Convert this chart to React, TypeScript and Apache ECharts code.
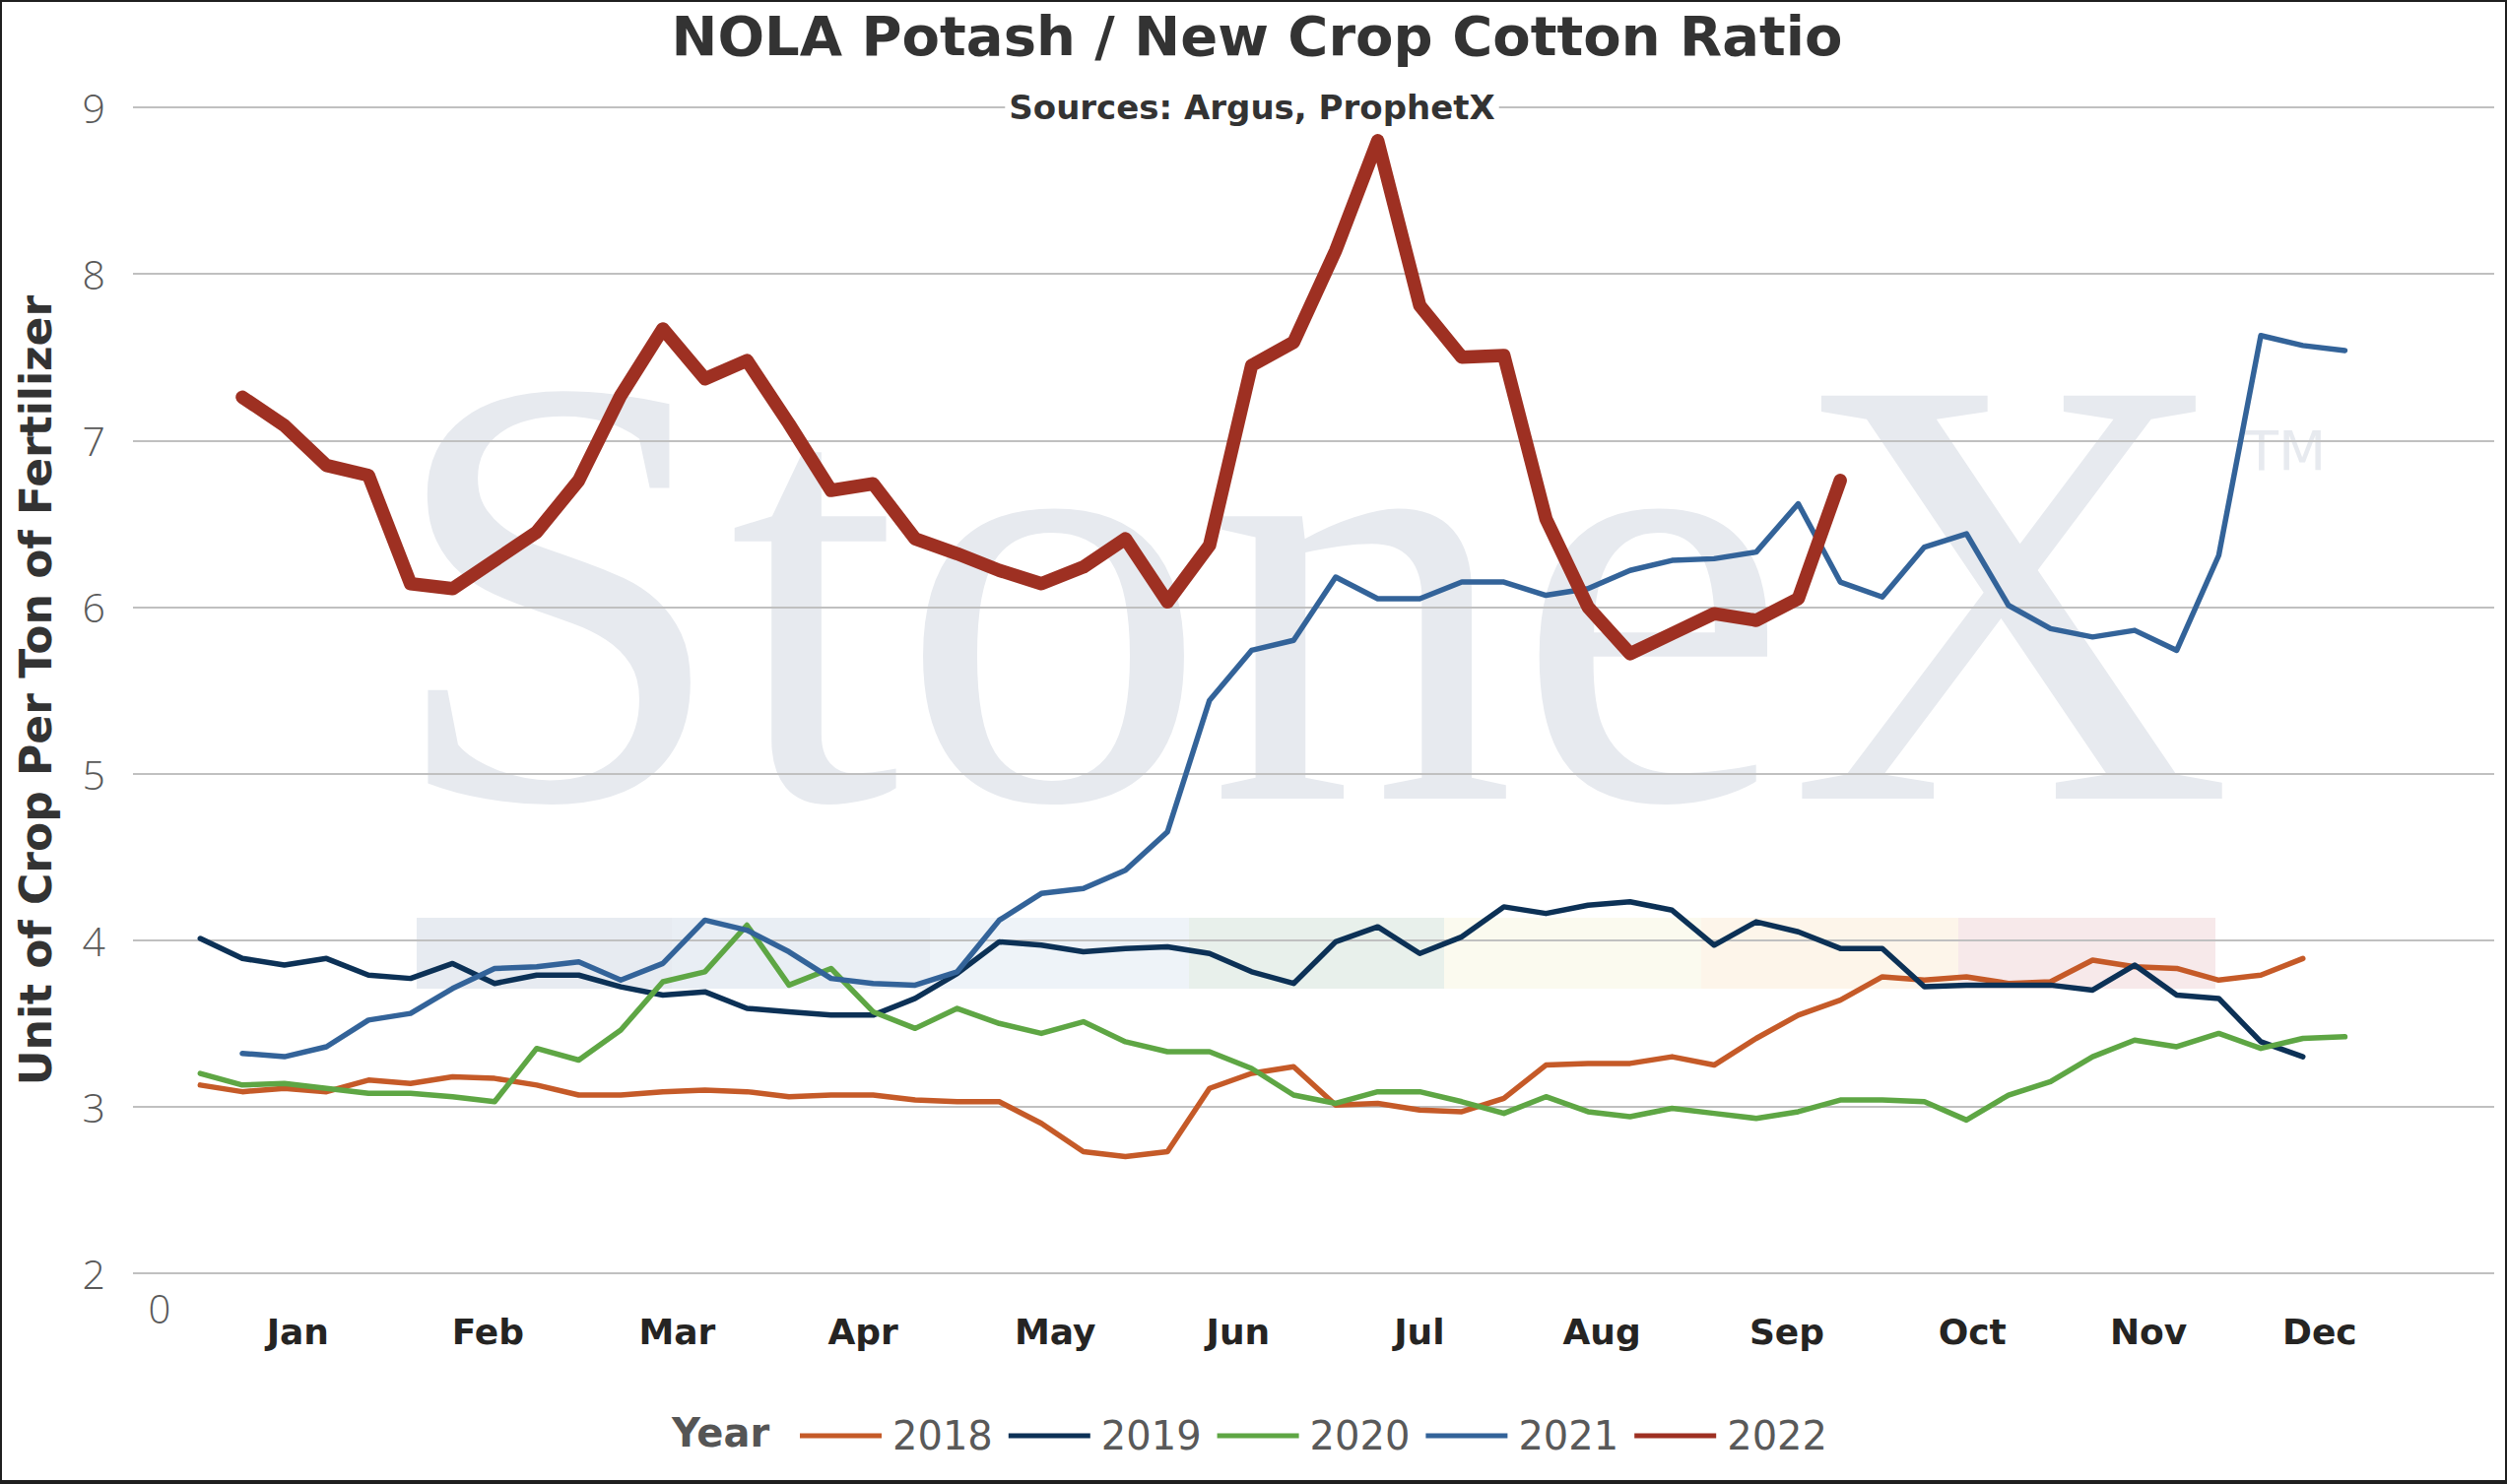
import * as React from "react";
import * as echarts from "echarts";

// weekly index: 0 = first week of January
const YEARS = ["2018", "2019", "2020", "2021", "2022"];
const START_WEEK = [0, 0, 0, 1, 1];
const COLORS = ["#c55a28", "#0c3156", "#5ea644", "#336399", "#9e3022"];
const WIDTHS = [5.5, 5.5, 5.5, 5.5, 13.5];

const Y2018 = [
  3.13, 3.09, 3.11, 3.09, 3.16, 3.14, 3.18, 3.17, 3.13, 3.07,
  3.07, 3.09, 3.1, 3.09, 3.06, 3.07, 3.07, 3.04, 3.03, 3.03,
  2.9, 2.73, 2.7, 2.73, 3.11, 3.2, 3.24, 3.01, 3.02, 2.98,
  2.97, 3.05, 3.25, 3.26, 3.26, 3.3, 3.25, 3.41, 3.55, 3.64,
  3.78, 3.76, 3.78, 3.74, 3.75, 3.88, 3.84, 3.83, 3.76, 3.79,
  3.89,
];
const Y2019 = [
  4.01, 3.89, 3.85, 3.89, 3.79, 3.77, 3.86, 3.74, 3.79, 3.79,
  3.72, 3.67, 3.69, 3.59, 3.57, 3.55, 3.55, 3.65, 3.8, 3.99,
  3.97, 3.93, 3.95, 3.96, 3.92, 3.81, 3.74, 3.99, 4.08, 3.92,
  4.02, 4.2, 4.16, 4.21, 4.23, 4.18, 3.97, 4.11, 4.05, 3.95,
  3.95, 3.72, 3.73, 3.73, 3.73, 3.7, 3.85, 3.67, 3.65, 3.39,
  3.3,
];
const Y2020 = [
  3.2, 3.13, 3.14, 3.11, 3.08, 3.08, 3.06, 3.03, 3.35, 3.28,
  3.46, 3.75, 3.81, 4.09, 3.73, 3.83, 3.57, 3.47, 3.59, 3.5,
  3.44, 3.51, 3.39, 3.33, 3.33, 3.23, 3.07, 3.02, 3.09, 3.09,
  3.03, 2.96, 3.06, 2.97, 2.94, 2.99, 2.96, 2.93, 2.97, 3.04,
  3.04, 3.03, 2.92, 3.07, 3.15, 3.3, 3.4, 3.36, 3.44, 3.35,
  3.41, 3.42,
];
const Y2021 = [
  3.32, 3.3, 3.36, 3.52, 3.56, 3.71, 3.83, 3.84, 3.87,
  3.76, 3.86, 4.12, 4.06, 3.93, 3.77, 3.74, 3.73, 3.81, 4.12,
  4.28, 4.31, 4.42, 4.65, 5.44, 5.74, 5.8, 6.18, 6.05, 6.05,
  6.15, 6.15, 6.07, 6.11, 6.22, 6.28, 6.29, 6.33, 6.62, 6.15,
  6.06, 6.36, 6.44, 6.01, 5.87, 5.82, 5.86, 5.74, 6.31, 7.63,
  7.57, 7.54,
];
const Y2022 = [
  7.26, 7.09, 6.85, 6.79, 6.14, 6.11, 6.28, 6.45, 6.76,
  7.27, 7.67, 7.37, 7.48, 7.1, 6.7, 6.74, 6.41, 6.32, 6.22,
  6.14, 6.24, 6.41, 6.03, 6.37, 7.45, 7.59, 8.14, 8.8, 7.81,
  7.5, 7.51, 6.53, 6.0, 5.72, 5.84, 5.96, 5.92, 6.05, 6.76,
];
const VALUES = [Y2018, Y2019, Y2020, Y2021, Y2022];

const MONTHS = ["Jan", "Feb", "Mar", "Apr", "May", "Jun", "Jul", "Aug", "Sep", "Oct", "Nov", "Dec"];
// label positions on the week scale
const MONTH_POS = [2.32, 6.84, 11.34, 15.76, 20.33, 24.68, 28.99, 33.33, 37.73, 42.14, 46.33, 50.4];

const Y_TICKS = [2, 3, 4, 5, 6, 7, 8, 9];

// StoneX watermark colour strip
const BAND_EDGES = [423, 682, 944, 1207, 1466, 1727, 1988, 2249];
const BAND_COLORS = ["#e7ebf1", "#e9eef4", "#eef3f8", "#e8f0eb", "#fbfaef", "#fdf5ea", "#f7e9ea"];

const WM = "#e7eaef";

export default function App() {
  const elRef = React.useRef<HTMLDivElement | null>(null);

  React.useEffect(() => {
    if (!elRef.current) return;
    const chart = echarts.init(elRef.current, undefined, { renderer: "svg" });

    const band = BAND_COLORS.map((c, i) => ({
      type: "rect",
      z: -10,
      shape: { x: BAND_EDGES[i], y: 932, width: BAND_EDGES[i + 1] - BAND_EDGES[i], height: 72 },
      style: { fill: c },
    }));

    const option: echarts.EChartsOption = {
      animation: false,
      backgroundColor: "#ffffff",
      grid: { left: 135, right: 13, top: 109, bottom: 214 },
      xAxis: {
        type: "value",
        min: -1.6,
        max: 54.55,
        axisLine: { show: false },
        axisTick: { show: false },
        splitLine: { show: false },
        axisLabel: {
          customValues: MONTH_POS,
          formatter: (v: number) => {
            let best = 0;
            MONTH_POS.forEach((p, i) => {
              if (Math.abs(p - v) < Math.abs(MONTH_POS[best] - v)) best = i;
            });
            return MONTHS[best];
          },
          margin: 41,
          fontSize: 36,
          fontWeight: "bold",
          fontFamily: "DejaVu Sans",
          color: "#252423",
        },
      } as any,
      yAxis: {
        type: "value",
        min: Y_TICKS[0],
        max: Y_TICKS[Y_TICKS.length - 1],
        interval: 1,
        axisLine: { show: false },
        axisTick: { show: false },
        splitLine: { lineStyle: { color: "#c0c0c0", width: 2 } },
        axisLabel: {
          margin: 28,
          fontSize: 41,
          fontFamily: "Open Sans",
          fontWeight: 300,
          color: "#595959",
        },
      },
      legend: {
        data: YEARS,
        left: 807,
        top: 1433,
        icon: "rect",
        itemWidth: 83,
        itemHeight: 5,
        itemGap: 16,
        textStyle: {
          fontSize: 40,
          color: "#595959",
          fontFamily: "DejaVu Sans",
          padding: [0, 0, 0, 6],
        },
      },
      series: YEARS.map((name, i) => ({
        name,
        type: "line",
        color: COLORS[i],
        showSymbol: false,
        symbol: "none",
        lineStyle: { width: WIDTHS[i], color: COLORS[i], cap: "round", join: "round" },
        data: VALUES[i].map((v, j) => [START_WEEK[i] + j, v]),
      })),
      graphic: [
        {
          type: "text",
          z: -10,
          x: 392,
          y: 600,
          style: {
            text: "StoneX",
            fontSize: 625,
            fontFamily: "Liberation Serif",
            fill: WM,
            align: "left",
            verticalAlign: "middle",
          },
        },
        {
          type: "text",
          z: -10,
          x: 2320,
          y: 457,
          style: {
            text: "TM",
            fontSize: 56,
            fontFamily: "DejaVu Sans",
            fill: WM,
            align: "center",
            verticalAlign: "middle",
          },
        },
        ...band,
        {
          type: "text",
          x: 1276,
          y: 36,
          style: {
            text: "NOLA Potash / New Crop Cotton Ratio",
            fontSize: 56,
            fontWeight: "bold",
            fontFamily: "DejaVu Sans",
            fill: "#333333",
            align: "center",
            verticalAlign: "middle",
          },
        },
        {
          type: "text",
          x: 1271,
          y: 109,
          z: 5,
          style: {
            text: "Sources: Argus, ProphetX",
            fontSize: 34,
            fontWeight: "bold",
            fontFamily: "DejaVu Sans",
            fill: "#333333",
            align: "center",
            verticalAlign: "middle",
            backgroundColor: "#ffffff",
            padding: [2, 4],
          },
        },
        {
          type: "text",
          x: 36,
          y: 701,
          rotation: Math.PI / 2,
          style: {
            text: "Unit of Crop Per Ton of Fertilizer",
            fontSize: 44,
            fontWeight: "bold",
            fontFamily: "DejaVu Sans",
            fill: "#333333",
            align: "center",
            verticalAlign: "middle",
          },
        },
        {
          type: "text",
          x: 162,
          y: 1328,
          style: {
            text: "0",
            fontSize: 40,
            fontFamily: "Open Sans",
            fontWeight: 300,
            fill: "#595959",
            align: "center",
            verticalAlign: "middle",
          },
        },
        {
          type: "text",
          x: 682,
          y: 1455,
          style: {
            text: "Year",
            fontSize: 40,
            fontWeight: "bold",
            fontFamily: "DejaVu Sans",
            fill: "#555555",
            align: "left",
            verticalAlign: "middle",
          },
        },
        {
          type: "rect",
          shape: { x: 1, y: 1, width: 2543, height: 1504 },
          style: { fill: "none", stroke: "#1f1f1f", lineWidth: 2 },
        },
        {
          type: "rect",
          shape: { x: 0, y: 1503, width: 2545, height: 4 },
          style: { fill: "#1f1f1f" },
        },
      ] as any,
    };

    chart.setOption(option);
    return () => chart.dispose();
  }, []);

  return (
    <div
      ref={elRef}
      style={{ position: "fixed", left: 0, top: 0, width: 2545, height: 1507, background: "#fff" }}
    />
  );
}
